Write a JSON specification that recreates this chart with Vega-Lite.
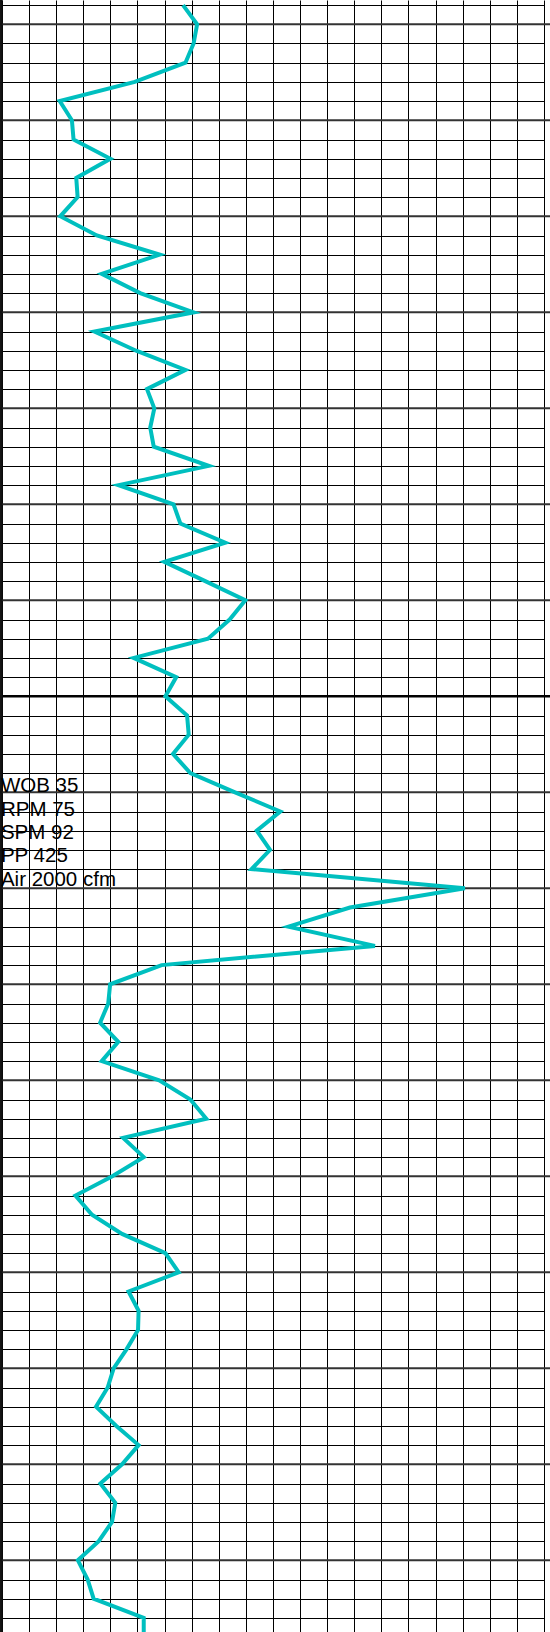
{
  "$schema": "https://vega.github.io/schema/vega-lite/v6.json",
  "width": 544,
  "height": 1632,
  "autosize": {"type": "none"},
  "padding": {"left": 0, "top": 0, "right": 6, "bottom": 0},
  "background": "white",
  "config": {"view": {"stroke": null}},
  "datasets": {
    "rop": [
      {"depth": -1, "rate": 6.68}, {"depth": 0, "rate": 7.2}, {"depth": 1, "rate": 7.07}, {"depth": 2, "rate": 6.77},
      {"depth": 3, "rate": 4.9}, {"depth": 4, "rate": 2.13}, {"depth": 5, "rate": 2.58}, {"depth": 6, "rate": 2.64},
      {"depth": 7, "rate": 4.0}, {"depth": 8, "rate": 2.74}, {"depth": 9, "rate": 2.79}, {"depth": 10, "rate": 2.15},
      {"depth": 11, "rate": 3.5}, {"depth": 12, "rate": 5.82}, {"depth": 13, "rate": 3.68}, {"depth": 14, "rate": 5.1},
      {"depth": 15, "rate": 7.07}, {"depth": 16, "rate": 3.41}, {"depth": 17, "rate": 4.95}, {"depth": 18, "rate": 6.77},
      {"depth": 19, "rate": 5.35}, {"depth": 20, "rate": 5.62}, {"depth": 21, "rate": 5.47}, {"depth": 22, "rate": 5.6},
      {"depth": 23, "rate": 7.63}, {"depth": 24, "rate": 4.3}, {"depth": 25, "rate": 6.33}, {"depth": 26, "rate": 6.58},
      {"depth": 27, "rate": 8.24}, {"depth": 28, "rate": 5.99}, {"depth": 29, "rate": 7.5}, {"depth": 30, "rate": 8.98},
      {"depth": 31, "rate": 8.4}, {"depth": 32, "rate": 7.6}, {"depth": 33, "rate": 4.86}, {"depth": 34, "rate": 6.43},
      {"depth": 35, "rate": 6.03}, {"depth": 36, "rate": 6.83}, {"depth": 37, "rate": 6.89}, {"depth": 38, "rate": 6.31},
      {"depth": 39, "rate": 6.95}, {"depth": 40, "rate": 8.6}, {"depth": 41, "rate": 10.27}, {"depth": 42, "rate": 9.4},
      {"depth": 43, "rate": 9.89}, {"depth": 44, "rate": 9.21}, {"depth": 45, "rate": 17.08}, {"depth": 46, "rate": 12.84},
      {"depth": 47, "rate": 10.57}, {"depth": 48, "rate": 13.76}, {"depth": 49, "rate": 5.89}, {"depth": 50, "rate": 3.99},
      {"depth": 51, "rate": 3.92}, {"depth": 52, "rate": 3.62}, {"depth": 53, "rate": 4.29}, {"depth": 54, "rate": 3.68},
      {"depth": 55, "rate": 5.8}, {"depth": 56, "rate": 6.95}, {"depth": 57, "rate": 7.54}, {"depth": 58, "rate": 4.47},
      {"depth": 59, "rate": 5.23}, {"depth": 60, "rate": 4.07}, {"depth": 61, "rate": 2.71}, {"depth": 62, "rate": 3.32},
      {"depth": 63, "rate": 4.43}, {"depth": 64, "rate": 6.03}, {"depth": 65, "rate": 6.52}, {"depth": 66, "rate": 4.67},
      {"depth": 67, "rate": 5.04}, {"depth": 68, "rate": 5.02}, {"depth": 69, "rate": 4.6}, {"depth": 70, "rate": 4.12},
      {"depth": 71, "rate": 3.9}, {"depth": 72, "rate": 3.47}, {"depth": 73, "rate": 4.22}, {"depth": 74, "rate": 5.04},
      {"depth": 75, "rate": 4.43}, {"depth": 76, "rate": 3.63}, {"depth": 77, "rate": 4.18}, {"depth": 78, "rate": 4.06},
      {"depth": 79, "rate": 3.57}, {"depth": 80, "rate": 2.8}, {"depth": 81, "rate": 3.16}, {"depth": 82, "rate": 3.38},
      {"depth": 83, "rate": 5.23}, {"depth": 84, "rate": 5.23}
    ],
    "majors": [
      {"depth": 0}, {"depth": 5}, {"depth": 10}, {"depth": 15}, {"depth": 20}, {"depth": 25}, {"depth": 30},
      {"depth": 35}, {"depth": 40}, {"depth": 45}, {"depth": 50}, {"depth": 55}, {"depth": 60}, {"depth": 65},
      {"depth": 70}, {"depth": 75}, {"depth": 80}
    ],
    "notes": [
      {"depth": 40, "note": "WOB 35|RPM 75|SPM 92|PP 425|Air 2000 cfm"}
    ]
  },
  "layer": [
    {
      "data": {"name": "majors"},
      "mark": {"type": "rule"},
      "encoding": {
        "y": {
          "field": "depth",
          "type": "quantitative",
          "scale": {"domain": [-1.2656, 83.734], "reverse": true, "nice": false, "zero": false},
          "axis": {
            "values": [-1,0,1,2,3,4,5,6,7,8,9,10,11,12,13,14,15,16,17,18,19,20,21,22,23,24,25,26,27,28,29,30,31,32,33,34,35,36,37,38,39,40,41,42,43,44,45,46,47,48,49,50,51,52,53,54,55,56,57,58,59,60,61,62,63,64,65,66,67,68,69,70,71,72,73,74,75,76,77,78,79,80,81,82,83],
            "grid": true, "gridColor": "#000000", "gridWidth": 1, "gridOpacity": 1,
            "domain": false, "ticks": false, "labels": false, "title": null
          }
        },
        "x": {
          "datum": -0.08,
          "type": "quantitative",
          "scale": {"domain": [-0.0738, 20], "nice": false, "zero": false},
          "axis": {
            "values": [0,1,2,3,4,5,6,7,8,9,10,11,12,13,14,15,16,17,18,19,20],
            "grid": true, "gridColor": "#000000", "gridWidth": 1, "gridOpacity": 1,
            "domain": false, "ticks": false, "labels": false, "title": null
          }
        },
        "x2": {"datum": 20.3},
        "color": {"condition": {"test": "datum.depth === 35", "value": "#000000"}, "value": "#333333"},
        "strokeWidth": {"condition": {"test": "datum.depth === 35", "value": 2.5}, "value": 2}
      }
    },
    {
      "data": {"values": [{"edge": "left"}]},
      "mark": {"type": "rule", "color": "#111111", "strokeWidth": 2.6},
      "encoding": {
        "x": {
          "datum": -0.025,
          "type": "quantitative",
          "axis": {
            "values": [0,1,2,3,4,5,6,7,8,9,10,11,12,13,14,15,16,17,18,19,20],
            "grid": true, "gridColor": "#000000", "gridWidth": 1, "gridOpacity": 1,
            "domain": false, "ticks": false, "labels": false, "title": null
          }
        }
      }
    },
    {
      "data": {"name": "notes"},
      "mark": {"type": "text", "align": "left", "baseline": "alphabetic", "font": "Liberation Sans", "fontSize": 20.5, "lineBreak": "|", "lineHeight": 23.4, "color": "#000000"},
      "encoding": {
        "x": {
          "datum": -0.04,
          "type": "quantitative",
          "axis": {
            "values": [0,1,2,3,4,5,6,7,8,9,10,11,12,13,14,15,16,17,18,19,20],
            "grid": true, "gridColor": "#000000", "gridWidth": 1, "gridOpacity": 1,
            "domain": false, "ticks": false, "labels": false, "title": null
          }
        },
        "y": {
          "field": "depth",
          "type": "quantitative",
          "axis": {
            "values": [-1,0,1,2,3,4,5,6,7,8,9,10,11,12,13,14,15,16,17,18,19,20,21,22,23,24,25,26,27,28,29,30,31,32,33,34,35,36,37,38,39,40,41,42,43,44,45,46,47,48,49,50,51,52,53,54,55,56,57,58,59,60,61,62,63,64,65,66,67,68,69,70,71,72,73,74,75,76,77,78,79,80,81,82,83],
            "grid": true, "gridColor": "#000000", "gridWidth": 1, "gridOpacity": 1,
            "domain": false, "ticks": false, "labels": false, "title": null
          }
        },
        "text": {"field": "note"}
      }
    },
    {
      "data": {"name": "rop"},
      "mark": {"type": "line", "color": "#00BFBF", "strokeWidth": 4, "strokeJoin": "miter", "clip": true},
      "encoding": {
        "x": {
          "field": "rate",
          "type": "quantitative",
          "axis": {
            "values": [0,1,2,3,4,5,6,7,8,9,10,11,12,13,14,15,16,17,18,19,20],
            "grid": true, "gridColor": "#000000", "gridWidth": 1, "gridOpacity": 1,
            "domain": false, "ticks": false, "labels": false, "title": null
          }
        },
        "y": {
          "field": "depth",
          "type": "quantitative",
          "axis": {
            "values": [-1,0,1,2,3,4,5,6,7,8,9,10,11,12,13,14,15,16,17,18,19,20,21,22,23,24,25,26,27,28,29,30,31,32,33,34,35,36,37,38,39,40,41,42,43,44,45,46,47,48,49,50,51,52,53,54,55,56,57,58,59,60,61,62,63,64,65,66,67,68,69,70,71,72,73,74,75,76,77,78,79,80,81,82,83],
            "grid": true, "gridColor": "#000000", "gridWidth": 1, "gridOpacity": 1,
            "domain": false, "ticks": false, "labels": false, "title": null
          }
        },
        "order": {"field": "depth", "type": "quantitative"}
      }
    }
  ]
}
